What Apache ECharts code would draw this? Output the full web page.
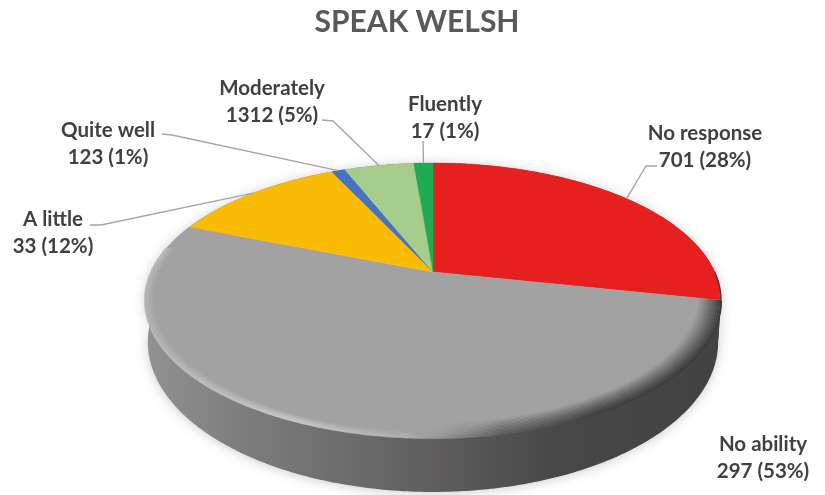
<!DOCTYPE html>
<html><head><meta charset="utf-8">
<style>html,body{margin:0;padding:0;background:#fff}#c{width:825px;height:495px;filter:blur(0.55px)}</style>
<script src="https://cdn.jsdelivr.net/npm/echarts@6/dist/echarts.min.js"></script>
</head><body><div id="c"></div>
<script>
// Data
const categories = ['No response','No ability','A little','Quite well','Moderately','Fluently'];
const counts = [701, 297, 33, 123, 1312, 17];
const percentLabels = ['28%','53%','12%','1%','5%','1%'];
const sliceShares = [28.3, 52.7, 12, 0.9, 4.8, 1.3];
const colors = ['#e5201e','#a2a2a2','#fabb05','#4472c4','#a5cd8b','#1fab52'];

// Layout (separate from data)
const labelCenters = [[705,133],[763,444],[53,219],[108,130],[272,88],[445,104]];
const leaderElbows = [[[657,166],[646,166]],null,[[90,225],[101,225]],[[162,134],[172,135]],[[322,120],[333,121]],[[423,141]]];
const lineGap = 27;
const geo = {cx:433, cy:272, A:281.8, B:131.6, k:0.207, left:145, right:722,
             topCy:300.5, topRy:137.5, baseCy:342, baseRy:150, baseRx:0.99};

const total = sliceShares.reduce((a,b)=>a+b,0);
const startOf = i => sliceShares.slice(0,i).reduce((a,b)=>a+b,0)/total*Math.PI*2;
const endOf = i => startOf(i+1);
function pt(theta, r){
  const u=r*Math.sin(theta), v=r*Math.cos(theta), w=1+geo.k*v;
  return [geo.cx+geo.A*u/w, geo.cy-geo.B*v/w];
}
function basePt(p){
  return [geo.cx+(p[0]-geo.cx)*geo.baseRx, geo.baseCy+(p[1]-geo.topCy)*geo.baseRy/geo.topRy];
}
function arc(a,b,r){
  const n=Math.max(2,Math.ceil(Math.abs(b-a)/0.01)), out=[];
  for(let i=0;i<=n;i++) out.push(pt(a+(b-a)*i/n,r));
  return out;
}
const hGrad = stops => new echarts.graphic.LinearGradient(geo.left,0,geo.right,0,stops.map(s=>({offset:s[0],color:s[1]})),true);
const wallStops = [[0,'#929292'],[0.18,'#7c7c7c'],[0.4,'#686868'],[0.5,'#5f5d5d'],[0.72,'#474747'],[1,'#424242']];
// bevel: one gradient per inset band, fading towards the face
function rimStops(t){
  const clamp=v=>Math.max(0,Math.min(1,v));
  const light=clamp(1-t*2.6);
  const dark=clamp(Math.pow(1-t,1.1));
  return [
    [0, `rgba(186,186,186,${light*0.8})`],
    [0.25, `rgba(198,198,198,${light})`],
    [0.45, `rgba(180,180,180,${light*0.7})`],
    [0.62, `rgba(88,88,88,${dark*0.85})`],
    [0.78, `rgba(64,64,64,${dark})`],
    [1, `rgba(58,58,58,${dark})`]
  ];
}

function renderWall(params, api){
  const i=params.dataIndex;
  api.value(0);
  const a=startOf(i), b=endOf(i);
  const top=arc(a,b,1), bot=top.map(basePt).reverse();
  return {type:'polygon',shape:{points:top.concat(bot)},
    style:{fill:hGrad(wallStops),shadowBlur:12,shadowColor:'rgba(0,0,0,0.2)',shadowOffsetY:1}};
}
function renderTop(params, api){
  const i=params.dataIndex;
  api.value(0);
  const a=startOf(i), b=endOf(i);
  const children=[{type:'polygon',shape:{points:[[geo.cx,geo.cy]].concat(arc(a,b,1))},
    style:{fill:colors[i],stroke:colors[i],lineWidth:0.4}}];
  // bevel on the front of the disc
  let fa=Math.max(a,Math.PI*0.5), fb=Math.min(b,Math.PI*1.56), bands=12, dr=0.0065, lw=2.1;
  if(i===0){bands=1;lw=1.2;}
  if(fb>fa){
    for(let k=0;k<bands;k++){
      children.push({type:'polyline',shape:{points:arc(fa,fb,1-k*dr)},
        style:{fill:null,stroke:hGrad(rimStops(k/12)),lineWidth:lw}});
    }
  }
  return {type:'group',children};
}
function renderLabels(params, api){
  const i=params.dataIndex;
  api.value(0);
  const children=[];
  const [x,y]=labelCenters[i];
  const font='bold 20.5px Lato, "Open Sans", sans-serif';
  [categories[i], counts[i]+' ('+percentLabels[i]+')'].forEach((t,j)=>{
    children.push({type:'text',style:{text:t,x:x,y:y+j*lineGap,align:'center',verticalAlign:'middle',font:font,fill:'#404040'}});
  });
  if(leaderElbows[i]){
    const end=pt((startOf(i)+endOf(i))/2,1.0);
    children.push({type:'polyline',shape:{points:leaderElbows[i].concat([end])},
      style:{fill:null,stroke:'#a6a6a6',lineWidth:1.4}});
  }
  return {type:'group',children};
}
const seriesData = sliceShares.map((v,i)=>({name:categories[i],value:[v]}));
const chart = echarts.init(document.getElementById('c'),null,{renderer:'canvas'});
chart.setOption({
  animation:false,
  backgroundColor:'#fff',
  title:{text:'SPEAK WELSH',left:412,top:17,textAlign:'center',textVerticalAlign:'middle',
    textStyle:{fontFamily:'Lato',fontWeight:'bold',fontSize:30,color:'#595959'}},
  series:[
    {type:'custom',name:'wall',coordinateSystem:'none',silent:true,z:1,data:seriesData,renderItem:renderWall},
    {type:'custom',name:'top',coordinateSystem:'none',silent:true,z:2,data:seriesData,renderItem:renderTop},
    {type:'custom',name:'labels',coordinateSystem:'none',silent:true,z:3,data:seriesData,renderItem:renderLabels}
  ]
});
</script></body></html>
